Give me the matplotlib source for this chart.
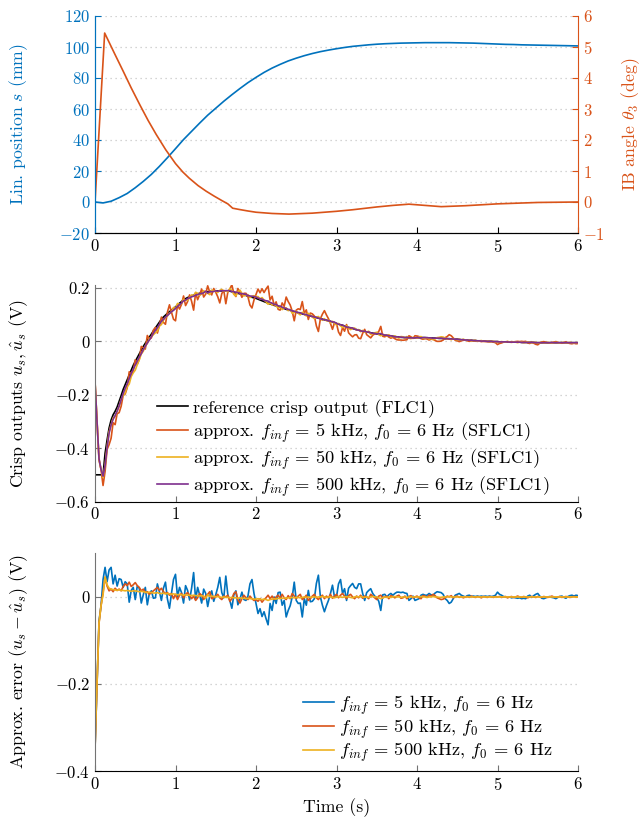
import numpy as np
import matplotlib
matplotlib.use('Agg')
import matplotlib.pyplot as plt
from matplotlib.ticker import FuncFormatter

plt.rcParams.update({
    'font.family': 'serif', 'font.serif': ['cmr10'], 'mathtext.fontset': 'cm',
    'axes.formatter.use_mathtext': True, 'font.size': 12, 'axes.unicode_minus': True,
})

# ---------------- top panel data ----------------
t_pos = np.round(np.arange(61) * 0.1, 2)
pos_mm = [0, -0.6, 0.5, 2.8, 5.5, 9.2, 13.3, 17.8, 23.0, 28.6,
          34.4, 40.3, 45.6, 50.9, 56.0, 60.5, 65.0, 69.2, 73.2, 77.0,
          80.4, 83.6, 86.4, 88.8, 91.0, 92.8, 94.4, 95.8, 97.0, 98.0,
          98.9, 99.7, 100.4, 100.9, 101.4, 101.8, 102.1, 102.3, 102.5, 102.6,
          102.7, 102.8, 102.8, 102.8, 102.8, 102.7, 102.6, 102.5, 102.3, 102.1,
          101.9, 101.7, 101.6, 101.4, 101.3, 101.2, 101.1, 101.0, 100.9, 100.8, 100.7]
t_ang = [0, 0.12, 0.25, 0.35, 0.45, 0.56, 0.66, 0.76, 0.88, 1.0, 1.09, 1.17, 1.28, 1.38,
         1.48, 1.58, 1.65, 1.71, 1.79, 1.9, 2.0, 2.2, 2.41, 2.7, 3.0, 3.2, 3.5, 3.7, 3.9,
         4.0, 4.3, 4.6, 5.0, 5.5, 6.0]
ang_deg = [0, 5.45, 4.75, 4.22, 3.68, 3.12, 2.63, 2.18, 1.68, 1.24, 0.97, 0.77, 0.53, 0.35,
           0.19, 0.04, -0.06, -0.20, -0.24, -0.29, -0.33, -0.37, -0.39, -0.36, -0.30, -0.25,
           -0.16, -0.11, -0.07, -0.09, -0.15, -0.12, -0.06, -0.015, 0.0]

# ---------------- crisp output & errors (mV), sampled every 0.025 s ----------------
dt = 0.025
ref_mV = [
    -500, -500, -500, -500, -500, -420, -370, -325, -295, -275, -262, -246, -225, -203, -180, -162, -144, -126, -108, -90,
    -75, -61, -47, -33, -19, -7, 4, 16, 27, 39, 50, 61, 72, 83, 91, 98, 105, 111, 117, 123,
    129, 136, 143, 149, 156, 160, 164, 167, 170, 173, 176, 178, 180, 182, 184, 185, 186, 187, 188, 188,
    189, 189, 189, 189, 189, 189, 189, 188, 186, 184, 182, 180, 178, 176, 174, 172, 169, 166, 165, 163,
    161, 158, 155, 152, 149, 146, 143, 140, 138, 135, 133, 130, 128, 125, 123, 120, 118, 116, 113, 111,
    109, 107, 105, 103, 101, 99, 97, 95, 93, 91, 89, 87, 85, 83, 81, 79, 77, 75, 72, 70,
    67, 65, 62, 60, 57, 55, 52, 50, 48, 46, 44, 42, 40, 38, 37, 35, 34, 32, 31, 30,
    28, 27, 25, 24, 23, 22, 21, 20, 19, 18, 17, 16, 15, 15, 14, 14, 13, 13, 13, 13,
    14, 14, 14, 14, 14, 13, 13, 13, 12, 12, 12, 11, 11, 11, 10, 10, 10, 9, 9, 8,
    8, 7, 6, 6, 5, 5, 4, 4, 3, 3, 2, 2, 1, 1, 1, 0, 0, 0, -1, -1,
    -1, -2, -2, -2, -2, -2, -3, -3, -3, -3, -3, -3, -4, -4, -4, -4, -4, -4, -4, -5,
    -5, -5, -5, -5, -5, -5, -5, -5, -5, -5, -5, -5, -5, -5, -5, -5, -5, -5, -5, -5,
    -5]
err_5k_mV = [
    -350, -200, -55, -20, 40, 68, 35, 62, 68, 30, 50, 25, 42, 40, 22, 35, 30, -12, 15, 22,
    -6, 25, 20, -14, 5, 22, -18, 8, 14, -3, -2, 30, 12, -8, 20, 34, -5, -26, 8, 40,
    52, 0, 22, 10, -14, 26, 15, -7, 20, 56, -6, 22, 5, -14, 18, 8, -22, 2, 14, -10,
    5, 22, 45, 10, -2, 48, 5, -8, -26, 5, 14, -18, -5, 11, -6, -8, 2, 30, 40, 8,
    -15, -38, -27, -45, -34, -50, -64, -15, -31, 0, -15, 10, 11, -19, -8, -46, -31, -20, 0, 34,
    -8, -15, -14, -46, -4, -19, 15, -11, -10, -4, 31, 50, 0, -19, -34, -20, -8, 8, 27, 0,
    0, 30, 40, 8, 19, -8, 20, 26, 31, 22, 19, 30, 30, 8, -8, 10, 15, 19, 8, 2,
    -2, -10, -31, 5, 6, 0, 5, 8, 4, 8, 11, 11, 10, 11, 9, 8, -8, -4, 2, -8,
    -6, -4, 4, 6, 4, 4, 8, 5, 4, 9, 12, 11, 10, 6, -4, -8, -15, -12, -4, 4,
    6, 8, 4, 2, 0, 3, 4, 1, 2, 1, 2, 1, 2, 1, 2, 1, 2, 1, 2, 4,
    11, 6, 4, 1, 0, -1, 0, -2, -1, -2, -3, -2, -4, -3, -4, 2, 4, -1, 3, 6,
    8, 2, -3, -4, -2, 0, 1, -1, -2, -4, -1, 1, 2, -1, -3, 1, 3, 4, 2, 4,
    3]
err_50k_mV = [
    -350, -200, -60, -20, 10, 45, 25, 14, 18, 12, 20, 15, 18, 14, 24, 30, 26, 34, 24, 28,
    33, 26, 22, 14, 18, 10, 12, 6, 10, 14, 18, 22, 15, 20, 12, 8, 10, 4, 8, -4,
    6, -6, 4, 8, -2, 6, 10, 4, -4, 2, -8, -2, 8, 4, -6, 2, 6, 12, -4, -2,
    2, 6, -2, -6, 2, 0, 4, -10, -4, 8, 12, -6, -14, -4, 4, -2, -6, 2, -4, -8,
    -6, -10, -4, -12, -6, -2, 4, -4, 2, -6, 0, 4, -3, 6, -2, -6, 3, -4, 8, 2,
    -4, 2, 6, -6, -2, 4, -8, -4, 2, 6, -2, -6, 0, 4, -4, 2, -2, 6, -3, 2,
    6, -2, 4, 8, 2, -4, 3, 6, 0, -4, 2, -2, 4, -3, 2, 0, -4, 6, 2, -2,
    -6, 2, 4, -2, 0, 2, -4, 3, 1, -2, 2, 4, -3, -2, 2, -4, 1, 3, -2, 0,
    2, -2, -4, 3, 2, -1, 4, 2, 6, 3, -2, -4, -6, -5, -2, 2, 0, 3, -2, 1,
    2, -1, 1, -2, 0, 1, -1, 2, 0, -1, 1, 0, -2, 1, 0, -1, 1, 0, -1, 1,
    0, 1, -1, 0, 1, -2, 0, 1, -1, 0, 2, 0, -1, 1, 0, -2, 0, 1, 0, -1,
    1, 0, -1, 1, 0, -1, 0, 2, 0, -1, 0, 1, -1, 0, 1, 0, -1, 0, 1, 0,
    0]
err_500k_mV = [
    -350, -200, -60, -20, 5, 46, 28, 20, 18, 17, 16, 15, 17, 15, 15, 14, 15, 14, 13, 14,
    14, 13, 12, 13, 12, 11, 10, 11, 10, 9, 9, 10, 8, 8, 9, 7, 8, 7, 6, 7,
    6, 5, 6, 5, 4, 5, 4, 4, 3, 4, 3, 3, 2, 3, 2, -3, 5, 1, 2, 1,
    0, 1, 0, -1, 0, -1, -1, -2, -1, -2, -2, -3, -2, -3, -3, -4, -3, -4, -4, -5,
    -5, -4, -5, -6, -5, -6, -8, -6, -5, -4, -5, -3, -4, -3, -2, -3, -2, -2, -1, -2,
    -1, -1, -2, -1, 0, -1, 0, -1, 0, 0, -1, 0, 0, 1, 0, -1, 0, 0, -1, -2,
    0, 1, 0, -1, 0, 1, 0, -1, -2, 0, 1, 0, 1, 0, -1, 0, -1, 0, 1, 0,
    0, -2, -4, -2, 0, -1, 0, -1, 0, 1, 0, 0, -1, 0, 0, -1, 0, 0, 0, 0,
    0, 0, 1, 0, 0, -1, 0, 0, 1, 0, 0, -1, -1, 0, 0, 0, 1, 0, 0, 0,
    0, 0, 0, 0, 0, 0, 0, 0, 0, 0, 0, 0, 0, 0, 0, 0, 0, 0, 0, 0,
    0, 0, 0, 0, 0, 0, 0, 0, 0, 0, 0, 0, 0, 0, 0, 0, 0, 0, 0, 0,
    0, 0, 0, 0, 0, 0, 0, 0, 0, 0, 0, 0, 0, 0, 0, 0, 0, 0, 0, 0,
    0]
u_init = 0.0  # crisp outputs at t = 0

labels_mid = ['reference crisp output (FLC1)',
              r'approx. $f_{inf}\,=\,5$ kHz, $f_0\,=\,6$ Hz (SFLC1)',
              r'approx. $f_{inf}\,=\,50$ kHz, $f_0\,=\,6$ Hz (SFLC1)',
              r'approx. $f_{inf}\,=\,500$ kHz, $f_0\,=\,6$ Hz (SFLC1)']
labels_bot = [r'$f_{inf}\,=\,5$ kHz, $f_0\,=\,6$ Hz',
              r'$f_{inf}\,=\,50$ kHz, $f_0\,=\,6$ Hz',
              r'$f_{inf}\,=\,500$ kHz, $f_0\,=\,6$ Hz']

BLUE = (0.0, 0.447, 0.741)
ORANGE = (0.85, 0.325, 0.098)
YELLOW = (0.929, 0.694, 0.125)
PURPLE = (0.494, 0.184, 0.556)
SPINE = (0.45, 0.45, 0.45)
GRID = dict(color=(0.78, 0.78, 0.78), linestyle=(0, (1, 3)), linewidth=0.9)
LW = 1.2
LABEL_FS = 12.8
LEG_FS = 13.3

ref = np.array(ref_mV) / 1000.0
e5 = np.array(err_5k_mV) / 1000.0
e50 = np.array(err_50k_mV) / 1000.0
e500 = np.array(err_500k_mV) / 1000.0
time = np.arange(len(ref)) * dt

fmt = FuncFormatter(lambda v, p: r'$\mathdefault{%g}$' % (round(v, 3) + 0.0))

fig = plt.figure(figsize=(6.41, 8.32), dpi=100)
W = 641.0; H = 832.0
def axpos(x0, x1, ytop, ybot):
    return [x0 / W, 1 - ybot / H, (x1 - x0) / W, (ybot - ytop) / H]

LBLX = -0.135

# ---------------- top ----------------
ax1 = fig.add_axes(axpos(95, 578, 16, 233))
ax1.plot(t_pos, pos_mm, color=BLUE, lw=LW)
ax1.set_xlim(0, 6); ax1.set_ylim(-20, 120)
ax1.set_yticks(np.arange(-20, 121, 20)); ax1.set_xticks(range(7))
ax1.yaxis.grid(True, **GRID)
ax1.set_ylabel(r'Lin. position $s$ (mm)', color=BLUE, fontsize=LABEL_FS)
ax1.yaxis.set_label_coords(LBLX, 0.5)
ax2 = ax1.twinx()
ax2.plot(t_ang, ang_deg, color=ORANGE, lw=LW)
ax2.set_ylim(-1, 6); ax2.set_yticks(range(-1, 7))
ax2.set_ylabel(r'IB angle $\theta_3$ (deg)', color=ORANGE, fontsize=LABEL_FS)
ax2.yaxis.set_label_coords(1.086, 0.5)
for a in (ax1, ax2):
    a.spines['top'].set_visible(False)
    a.tick_params(direction='in', length=4, width=0.8)
ax1.spines['left'].set_color(BLUE); ax2.spines['left'].set_color(BLUE)
ax2.spines['right'].set_color(ORANGE); ax1.spines['right'].set_visible(False)
ax1.spines['bottom'].set_color('black')
ax1.tick_params(axis='y', colors=BLUE)
ax2.tick_params(axis='y', colors=ORANGE)
ax1.tick_params(axis='x', colors='black')

# ---------------- middle ----------------
ax3 = fig.add_axes(axpos(95, 578, 284.5, 501.5))
tm = np.r_[0.0, time]
ax3.plot(tm, np.r_[u_init, ref], color='black', lw=LW, label=labels_mid[0])
ax3.plot(tm, np.r_[u_init, ref - e5], color=ORANGE, lw=LW, label=labels_mid[1])
ax3.plot(tm, np.r_[u_init, ref - e50], color=YELLOW, lw=LW, label=labels_mid[2])
ax3.plot(tm, np.r_[u_init, ref - e500], color=PURPLE, lw=LW, label=labels_mid[3])
ax3.set_xlim(0, 6); ax3.set_ylim(-0.6, 0.213)
ax3.set_yticks([-0.6, -0.4, -0.2, 0, 0.2]); ax3.set_xticks(range(7))
ax3.yaxis.set_major_formatter(fmt)
ax3.yaxis.grid(True, **GRID)
ax3.set_ylabel(r'Crisp outputs $u_s, \hat{u}_s$ (V)', fontsize=LABEL_FS)
ax3.yaxis.set_label_coords(LBLX, 0.5)
ax3.legend(loc='upper left', bbox_to_anchor=(0.128, 0.472), frameon=False,
           handlelength=1.7, handletextpad=0.25, borderaxespad=0, borderpad=0,
           labelspacing=0.15, fontsize=LEG_FS)

# ---------------- bottom ----------------
ax4 = fig.add_axes(axpos(95, 578, 553, 771))
ax4.plot(time, e5, color=BLUE, lw=LW, label=labels_bot[0])
ax4.plot(time, e50, color=ORANGE, lw=LW, label=labels_bot[1])
ax4.plot(time, e500, color=YELLOW, lw=LW, label=labels_bot[2])
ax4.set_xlim(0, 6); ax4.set_ylim(-0.4, 0.101)
ax4.set_yticks([-0.4, -0.2, 0]); ax4.set_xticks(range(7))
ax4.yaxis.set_major_formatter(fmt)
ax4.yaxis.grid(True, **GRID)
ax4.set_ylabel(r'Approx. error $(u_s - \hat{u}_s)$ (V)', fontsize=LABEL_FS)
ax4.yaxis.set_label_coords(LBLX, 0.5)
ax4.set_xlabel('Time (s)', fontsize=LABEL_FS)
ax4.legend(loc='upper left', bbox_to_anchor=(0.43, 0.355), frameon=False,
           handlelength=1.7, handletextpad=0.25, borderaxespad=0, borderpad=0,
           labelspacing=0.02, fontsize=LEG_FS)

for a in (ax3, ax4):
    a.spines['top'].set_visible(False); a.spines['right'].set_visible(False)
    a.spines['left'].set_color(SPINE); a.spines['bottom'].set_color('black')
    a.tick_params(direction='in', length=4, width=0.8, color=SPINE, labelcolor='black')

fig.savefig('out.png', dpi=100)
